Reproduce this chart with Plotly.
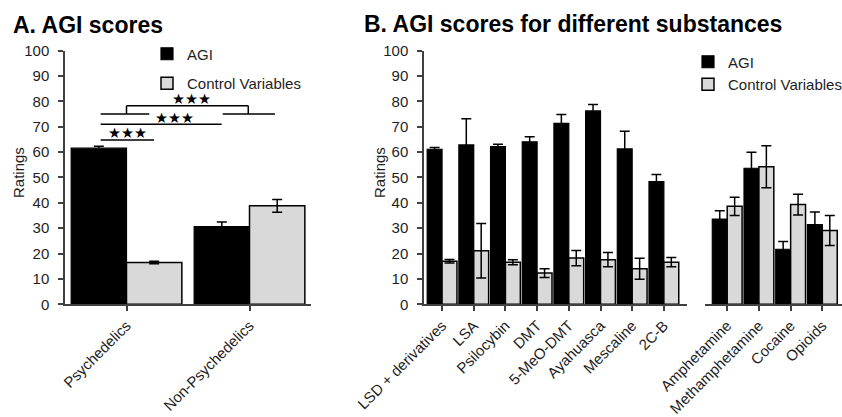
import plotly.graph_objects as go

# ---------------- data ----------------
groups_a = ["Psychedelics", "Non-Psychedelics"]
agi_a = [61.5, 30.6]
agi_a_err = [0.8, 1.8]
ctrl_a = [16.5, 38.8]
ctrl_a_err = [0.5, 2.5]

psy = ["LSD + derivatives", "LSA", "Psilocybin", "DMT", "5-MeO-DMT",
       "Ayahuasca", "Mescaline", "2C-B"]
agi_psy = [61.1, 62.8, 62.1, 64.0, 71.3, 76.2, 61.2, 48.3]
agi_psy_err = [0.7, 10.3, 1.0, 2.0, 3.5, 2.5, 7.0, 2.8]
ctrl_psy = [17.0, 21.1, 16.6, 12.3, 18.2, 17.6, 14.0, 16.6]
ctrl_psy_err = [0.7, 10.7, 1.0, 1.7, 3.0, 2.8, 4.1, 1.8]

nonpsy = ["Amphetamine", "Methamphetamine", "Cocaine", "Opioids"]
agi_non = [33.6, 53.6, 21.7, 31.4]
agi_non_err = [3.3, 6.3, 3.0, 5.0]
ctrl_non = [38.6, 54.2, 39.3, 29.1]
ctrl_non_err = [3.6, 8.3, 4.1, 5.9]

y_ticks = list(range(0, 101, 10))
sig_label = "★★★"

# ---------------- style ----------------
W, H = 842, 417
FONT = "Liberation Sans, Arial, sans-serif"
TXT = "#1e1e1e"
AX = "#404040"
BLACK = "#000000"
GREY = "#d9d9d9"

def px_x(p):
    return p / W

def px_y(p):
    return 1 - p / H

fig = go.Figure()

def add_pair(cats, agi, agi_err, ctrl, ctrl_err, xa, ya, w, legend, show):
    fig.add_trace(go.Bar(
        x=cats, y=agi, name="AGI", xaxis=xa, yaxis=ya,
        width=w, offset=-w,
        marker=dict(color=BLACK, line=dict(color=BLACK, width=1.2)),
        error_y=dict(type="data", array=agi_err, color=BLACK, thickness=1.5, width=5),
        legend=legend, legendgroup=legend + "a", showlegend=show,
    ))
    fig.add_trace(go.Bar(
        x=cats, y=ctrl, name="Control Variables", xaxis=xa, yaxis=ya,
        width=w, offset=0,
        marker=dict(color=GREY, line=dict(color=BLACK, width=1.5)),
        error_y=dict(type="data", array=ctrl_err, color=BLACK, thickness=1.5, width=5),
        legend=legend, legendgroup=legend + "c", showlegend=show,
    ))

add_pair(groups_a, agi_a, agi_a_err, ctrl_a, ctrl_a_err, "x", "y", 0.45, "legend", True)
add_pair(psy, agi_psy, agi_psy_err, ctrl_psy, ctrl_psy_err, "x2", "y2", 0.47, "legend2", True)
add_pair(nonpsy, agi_non, agi_non_err, ctrl_non, ctrl_non_err, "x3", "y2", 0.47, "legend2", False)

tickfont = dict(family=FONT, size=15, color=TXT)
xcommon = dict(type="category", showline=True, linecolor=AX, linewidth=1.5,
               ticks="outside", ticklen=5, tickwidth=1.5, tickcolor=AX,
               tickangle=-45, tickfont=tickfont, showgrid=False, zeroline=False,
               fixedrange=True)
ycommon = dict(range=[0, 100], tickvals=y_ticks, showline=True, linecolor=AX,
               linewidth=1.5, ticks="outside", ticklen=5, tickwidth=1.5,
               tickcolor=AX, tickfont=tickfont, showgrid=False, zeroline=False,
               ticklabelstandoff=6, fixedrange=True)

yd = [px_y(304.3), px_y(50.5)]

fig.update_layout(
    width=W, height=H,
    margin=dict(l=0, r=0, t=0, b=0, autoexpand=False),
    paper_bgcolor="white", plot_bgcolor="white",
    barmode="overlay",
    font=dict(family=FONT, color=TXT),
    xaxis=dict(xcommon, domain=[px_x(65), px_x(311)], range=[-0.5, 1.5], anchor="y"),
    yaxis=dict(ycommon, domain=yd, anchor="x"),
    xaxis2=dict(xcommon, domain=[px_x(424), px_x(687)], range=[-0.57, 7.73], anchor="y2"),
    xaxis3=dict(xcommon, domain=[px_x(705), 1.0], range=[-0.7, 3.62], anchor="y2"),
    yaxis2=dict(ycommon, domain=yd, anchor="x2"),
    legend=dict(x=px_x(147), y=px_y(37.5), xanchor="left", yanchor="top",
                traceorder="grouped", tracegroupgap=7, bgcolor="rgba(0,0,0,0)",
                font=dict(family=FONT, size=15, color=TXT), itemwidth=30),
    legend2=dict(x=px_x(688), y=px_y(45.5), xanchor="left", yanchor="top",
                 traceorder="grouped", tracegroupgap=0, bgcolor="rgba(0,0,0,0)",
                 font=dict(family=FONT, size=15, color=TXT), itemwidth=30),
    showlegend=True,
)

# titles
fig.add_annotation(text="<b>A. AGI scores</b>", xref="paper", yref="paper",
                   x=px_x(11), y=px_y(25), xanchor="left", yanchor="middle",
                   showarrow=False, font=dict(family=FONT, size=23, color=BLACK))
fig.add_annotation(text="<b>B. AGI scores for different substances</b>", xref="paper",
                   yref="paper", x=px_x(362), y=px_y(24), xanchor="left",
                   yanchor="middle", showarrow=False,
                   font=dict(family=FONT, size=23, color=BLACK))

# y-axis titles
for xp in (18.5, 379.5):
    fig.add_annotation(text="Ratings", xref="paper", yref="paper",
                       x=px_x(xp), y=px_y(172.5), textangle=-90,
                       xanchor="center", yanchor="middle", showarrow=False,
                       font=dict(family=FONT, size=15, color=TXT))

# significance brackets (panel A)
line = dict(color=BLACK, width=1.5)
sig_lines = [
    (-0.21, 64.7, 0.224, 64.7),
    (-0.21, 70.9, 0.774, 70.9),
    (-0.21, 75.0, 0.185, 75.0),
    (0.782, 75.0, 1.207, 75.0),
    (0.0, 75.0, 0.0, 78.25),
    (0.0, 78.25, 0.99, 78.25),
    (0.99, 78.25, 0.99, 75.0),
]
for x0, y0, x1, y1 in sig_lines:
    fig.add_shape(type="line", xref="x", yref="y", x0=x0, y0=y0, x1=x1, y1=y1, line=line)

for sx, sy in [(0.006, 67.5), (0.394, 73.6), (0.53, 80.9)]:
    fig.add_annotation(text=sig_label, xref="x", yref="y", x=sx, y=sy,
                       showarrow=False, xanchor="center", yanchor="middle",
                       font=dict(family="DejaVu Sans", size=14.5, color=BLACK))

fig.write_html(
    "out.html",
    config={"displayModeBar": False},
    post_script="document.body.style.margin='0';document.body.style.overflow='hidden';",
)
